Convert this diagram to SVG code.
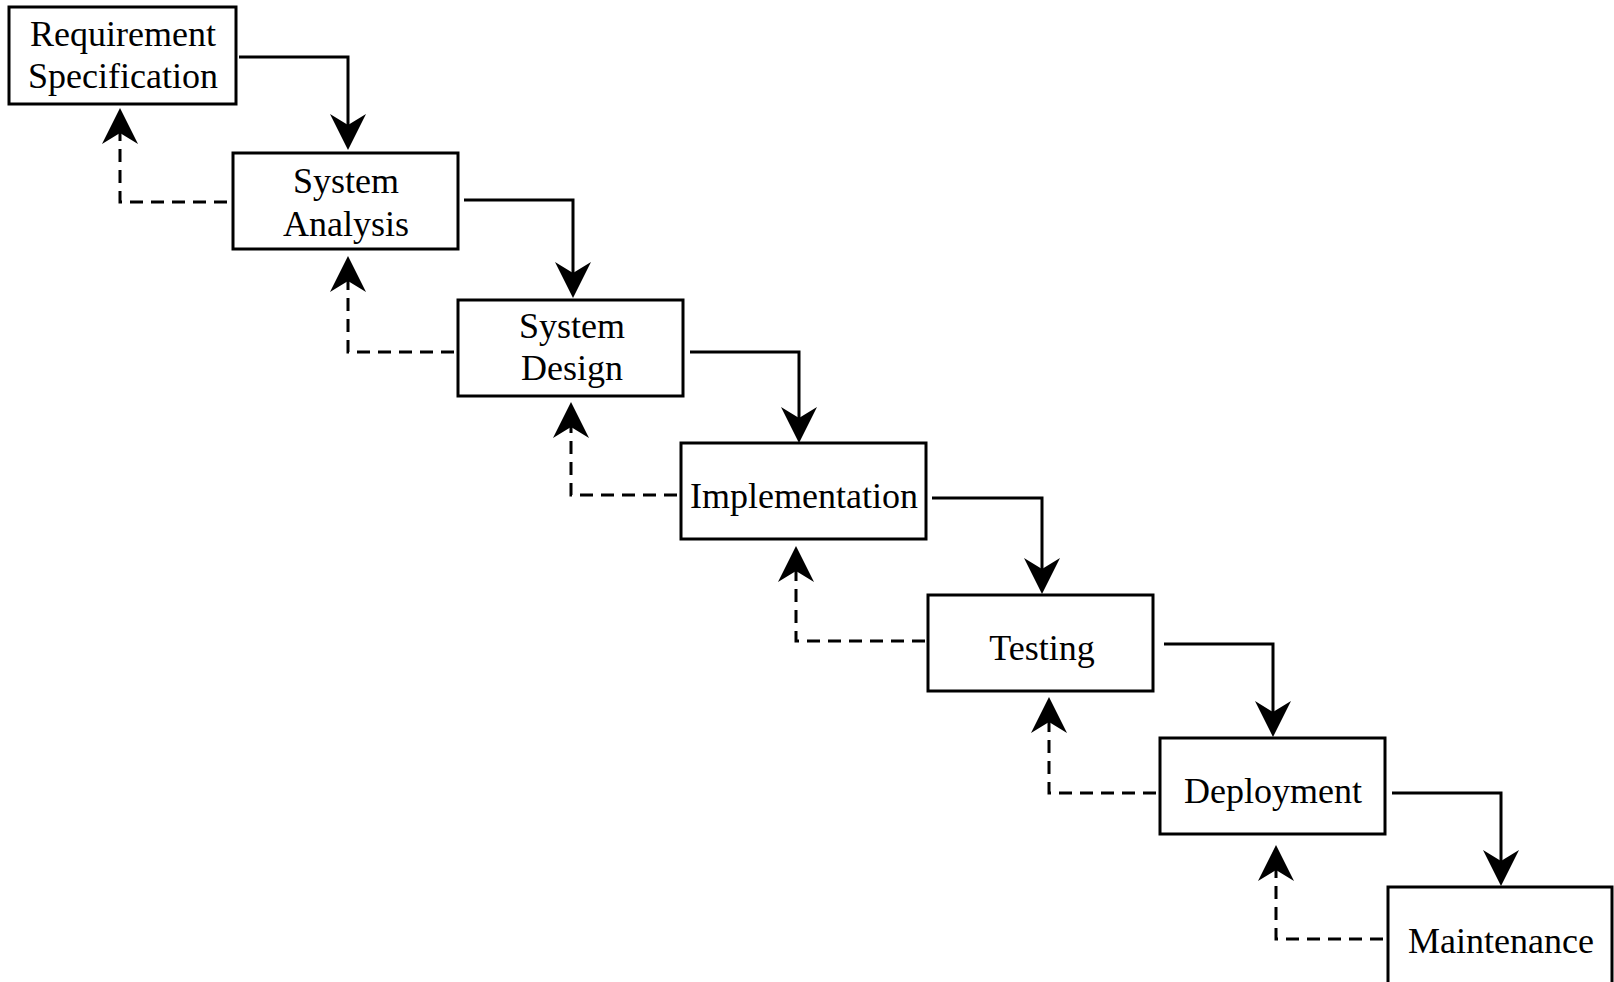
<svg xmlns="http://www.w3.org/2000/svg" width="1614" height="982" viewBox="0 0 1614 982">
  <style>
    .box { fill: #ffffff; stroke: #000000; stroke-width: 3; }
    .lbl { font-family: "Liberation Serif", "Times New Roman", serif; font-size: 36px; fill: #000000; text-anchor: middle; }
    .flow { fill: none; stroke: #000000; stroke-width: 3; stroke-linejoin: miter; marker-end: url(#head); }
    .back { fill: none; stroke: #000000; stroke-width: 3; stroke-dasharray: 13 8; marker-end: url(#head); }
  </style>
  <defs>
    <!-- notched arrowhead, tip placed 10px beyond the path end -->
    <marker id="head" markerUnits="userSpaceOnUse" viewBox="-40 -20 44 40" markerWidth="44" markerHeight="40" refX="-10" refY="0" orient="auto">
      <path d="M0,0 L-36,-18 L-25,0 L-36,18 Z" fill="#000000" stroke="none"/>
    </marker>
  </defs>

  <rect width="1614" height="982" fill="#ffffff"/>

  <!-- connectors: forward flow (solid) and feedback (dashed) -->
  <g id="connectors">
    <polyline class="flow" points="239,57 348,57 348,140"/>
    <polyline class="flow" points="464,200 573,200 573,288"/>
    <polyline class="flow" points="690,352 799,352 799,433"/>
    <polyline class="flow" points="932,498 1042,498 1042,584"/>
    <polyline class="flow" points="1164,644 1273,644 1273,727"/>
    <polyline class="flow" points="1392,793 1501,793 1501,876"/>

    <polyline class="back" points="227,202 120,202 120,118"/>
    <polyline class="back" points="454,352 348,352 348,266"/>
    <polyline class="back" points="677,495 571,495 571,412"/>
    <polyline class="back" points="925,641 796,641 796,556"/>
    <polyline class="back" points="1156,793 1049,793 1049,707"/>
    <polyline class="back" points="1383,939 1276,939 1276,855"/>
  </g>

  <g id="requirement-specification">
    <rect class="box" x="9" y="7" width="227" height="97"/>
    <text class="lbl" x="123" y="46">Requirement</text>
    <text class="lbl" x="123" y="88">Specification</text>
  </g>

  <g id="system-analysis">
    <rect class="box" x="233" y="153" width="225" height="96"/>
    <text class="lbl" x="346" y="193">System</text>
    <text class="lbl" x="346" y="236">Analysis</text>
  </g>

  <g id="system-design">
    <rect class="box" x="458" y="300" width="225" height="96"/>
    <text class="lbl" x="572" y="338">System</text>
    <text class="lbl" x="572" y="380">Design</text>
  </g>

  <g id="implementation">
    <rect class="box" x="681" y="443" width="245" height="96"/>
    <text class="lbl" x="804" y="508">Implementation</text>
  </g>

  <g id="testing">
    <rect class="box" x="928" y="595" width="225" height="96"/>
    <text class="lbl" x="1042" y="660">Testing</text>
  </g>

  <g id="deployment">
    <rect class="box" x="1160" y="738" width="225" height="96"/>
    <text class="lbl" x="1273" y="803">Deployment</text>
  </g>

  <g id="maintenance">
    <rect class="box" x="1388" y="887" width="224" height="110"/>
    <text class="lbl" x="1501" y="953">Maintenance</text>
  </g>
</svg>
